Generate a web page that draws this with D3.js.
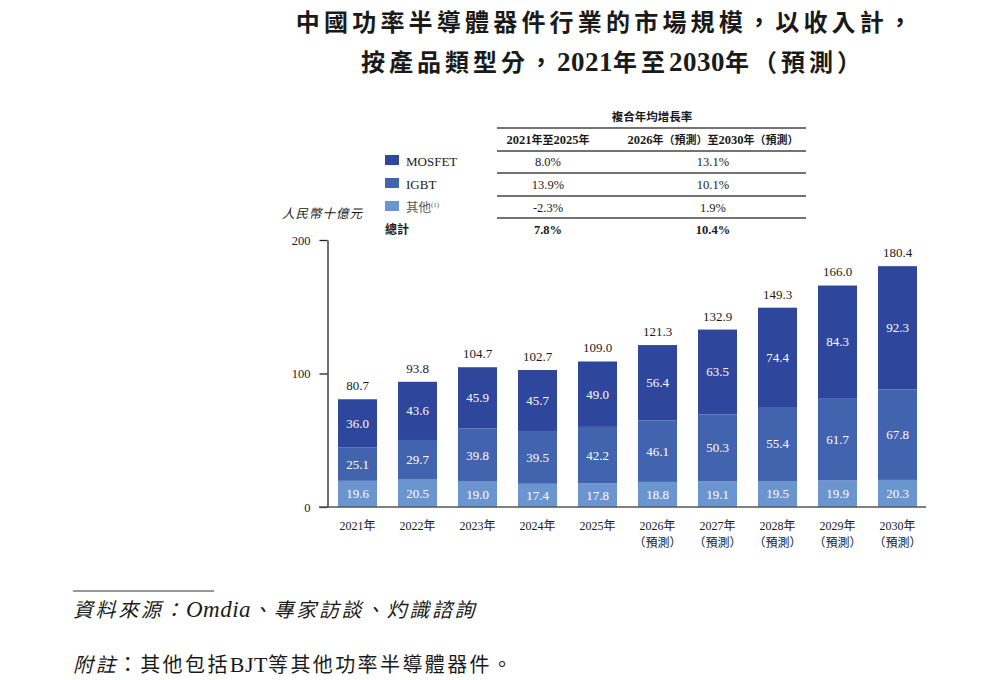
<!DOCTYPE html>
<html>
<head>
<meta charset="utf-8">
<script src="https://cdn.jsdelivr.net/npm/d3@7/dist/d3.min.js"></script>
<style>
  body { margin: 0; background: #fff; }
  svg text { font-family: "Liberation Serif", "Noto Sans CJK TC", serif; fill: #1a1a1a; }
  .cjk { font-family: "Noto Sans CJK TC", sans-serif; }
</style>
</head>
<body>
<div id="chart"></div>
<script>
// data
var years = ["2021年", "2022年", "2023年", "2024年", "2025年", "2026年", "2027年", "2028年", "2029年", "2030年"];
var forecast = [false, false, false, false, false, true, true, true, true, true];
var others = [19.6, 20.5, 19.0, 17.4, 17.8, 18.8, 19.1, 19.5, 19.9, 20.3];
var igbt = [25.1, 29.7, 39.8, 39.5, 42.2, 46.1, 50.3, 55.4, 61.7, 67.8];
var mosfet = [36.0, 43.6, 45.9, 45.7, 49.0, 56.4, 63.5, 74.4, 84.3, 92.3];
var totals = [80.7, 93.8, 104.7, 102.7, 109.0, 121.3, 132.9, 149.3, 166.0, 180.4];
var yTicks = [0, 100, 200];

var seriesNames = ["其他", "IGBT", "MOSFET"];
var colors = ["#6a95cf", "#4263ad", "#2e469c"];

var cagrHead = ["2021年至2025年", "2026年（預測）至2030年（預測）"];
var cagrRows = [
    ["MOSFET", "8.0%", "13.1%"],
    ["IGBT", "13.9%", "10.1%"],
    ["其他", "-2.3%", "1.9%"],
    ["總計", "7.8%", "10.4%"]
];

var width = 1005, height = 680;
var svg = d3.select("#chart").append("svg")
    .attr("width", width)
    .attr("height", height);

// title
svg.append("text").attr("x", 606).attr("y", 31)
    .attr("text-anchor", "middle")
    .attr("class", "cjk")
    .style("font-size", "24px").style("font-weight", "bold").style("letter-spacing", "4.2px")
    .text("中國功率半導體器件行業的市場規模，以收入計，");
var t2 = svg.append("text").attr("x", 613).attr("y", 71)
    .attr("text-anchor", "middle")
    .style("font-size", "24px").style("font-weight", "bold").style("letter-spacing", "4px");
t2.append("tspan").attr("class", "cjk").text("按產品類型分，");
t2.append("tspan").style("font-size", "27px").style("letter-spacing", "0.5px").text("2021");
t2.append("tspan").attr("class", "cjk").text("年至");
t2.append("tspan").style("font-size", "27px").style("letter-spacing", "0.5px").text("2030");
t2.append("tspan").attr("class", "cjk").text("年（預測）");

// scales
var stackData = years.map(function(y, i){
    return { year: y, i: i, "其他": others[i], "IGBT": igbt[i], "MOSFET": mosfet[i] };
});

var xScale = d3.scaleBand()
    .domain(years)
    .range([327.5, 927.5])
    .paddingInner(0.35)
    .paddingOuter(0.175);

var yScale = d3.scaleLinear()
    .domain([0, 200])
    .range([507, 240]);

var stack = d3.stack().keys(seriesNames);
var layers = stack(stackData);

// bars
var layerG = svg.selectAll(".layer")
    .data(layers)
    .enter().append("g")
    .attr("class", "layer")
    .attr("fill", function(d, i){ return colors[i]; });

layerG.selectAll("rect")
    .data(function(d){ return d; })
    .enter().append("rect")
    .attr("x", function(d){ return xScale(d.data.year); })
    .attr("y", function(d){ return yScale(d[1]); })
    .attr("width", xScale.bandwidth())
    .attr("height", function(d){ return yScale(d[0]) - yScale(d[1]); });

layerG.selectAll(".seg-label")
    .data(function(d){ return d; })
    .enter().append("text")
    .attr("class", "seg-label")
    .attr("x", function(d){ return xScale(d.data.year) + xScale.bandwidth() / 2; })
    .attr("y", function(d){ return (yScale(d[0]) + yScale(d[1])) / 2 + 4.5; })
    .attr("text-anchor", "middle")
    .style("font-size", "13px")
    .style("fill", "#fff")
    .text(function(d){ return (d[1] - d[0]).toFixed(1); });

// totals
svg.selectAll(".total")
    .data(totals)
    .enter().append("text")
    .attr("class", "total")
    .attr("x", function(d, i){ return xScale(years[i]) + xScale.bandwidth() / 2; })
    .attr("y", function(d){ return yScale(d) - 9; })
    .attr("text-anchor", "middle")
    .style("font-size", "13px")
    .text(function(d){ return d.toFixed(1); });

// y axis
var yAxis = d3.axisLeft(yScale).tickValues(yTicks).tickSize(8).tickSizeOuter(0).tickPadding(9);
var yG = svg.append("g")
    .attr("transform", "translate(327.5,0)")
    .call(yAxis);
yG.selectAll("path, line").attr("stroke", "#222").attr("stroke-width", 1.3);
yG.selectAll("text").style("font-size", "12.5px").style("font-family", "Liberation Serif").attr("fill", "#1a1a1a");

// baseline
svg.append("line")
    .attr("x1", 319).attr("x2", 926)
    .attr("y1", yScale(0)).attr("y2", yScale(0))
    .attr("stroke", "#555").attr("stroke-width", 1.5);

// x labels
var xl = svg.selectAll(".xlab")
    .data(years)
    .enter().append("text")
    .attr("class", "xlab")
    .attr("text-anchor", "middle")
    .attr("x", function(d){ return xScale(d) + xScale.bandwidth() / 2; })
    .attr("y", 530)
    .style("font-size", "12px");
xl.append("tspan").text(function(d){ return d.replace("年", ""); });
xl.append("tspan").attr("class", "cjk").text("年");
svg.selectAll(".xfc")
    .data(years.filter(function(d, i){ return forecast[i]; }))
    .enter().append("text")
    .attr("class", "xfc cjk")
    .attr("text-anchor", "middle")
    .attr("x", function(d){ return xScale(d) + xScale.bandwidth() / 2; })
    .attr("y", 547)
    .style("font-size", "12px")
    .text("（預測）");

// unit label
svg.append("text").attr("x", 282).attr("y", 218)
    .attr("class", "cjk")
    .style("font-size", "12.5px").style("font-style", "italic").style("letter-spacing", "1px")
    .text("人民幣十億元");

// CAGR table
var c1 = 548, c2 = 713;
svg.append("text").attr("x", 652).attr("y", 121)
    .attr("text-anchor", "middle").attr("class", "cjk")
    .style("font-size", "11.5px").style("font-weight", "bold")
    .text("複合年均增長率");

[128, 151, 173, 196, 218].forEach(function(y){
    svg.append("line")
        .attr("x1", 497).attr("x2", 806).attr("y1", y).attr("y2", y)
        .attr("stroke", "#444").attr("stroke-width", 1.6);
});

function mixed(sel, str){
    str.split(/([0-9]+)/).forEach(function(p){
        if(!p) return;
        var t = sel.append("tspan").text(p);
        if(!/^[0-9]+$/.test(p)) t.attr("class", "cjk").style("font-size", "11px");
    });
}
var h1 = svg.append("text").attr("x", c1).attr("y", 144).attr("text-anchor", "middle")
    .style("font-size", "12.5px").style("font-weight", "bold");
mixed(h1, cagrHead[0]);
var h2 = svg.append("text").attr("x", c2).attr("y", 144).attr("text-anchor", "middle")
    .style("font-size", "12.5px").style("font-weight", "bold");
mixed(h2, cagrHead[1]);

var rowY = [166, 189, 212, 234];
cagrRows.forEach(function(r, i){
    var bold = i === 3;
    if(i < 3){
        svg.append("rect")
            .attr("x", 385).attr("y", rowY[i] - 11)
            .attr("width", 14).attr("height", 10)
            .attr("fill", colors[2 - i]);
        var lab = svg.append("text").attr("x", 406).attr("y", rowY[i])
            .style("font-size", "13px");
        if(i === 2){
            lab.append("tspan").attr("class", "cjk").style("fill", "#555").style("font-size", "12.5px").text(r[0]);
            lab.append("tspan").attr("dy", -5).style("font-size", "7px").style("fill", "#555").text("(1)");
        } else {
            lab.text(r[0]);
        }
    } else {
        svg.append("text").attr("x", 385).attr("y", rowY[i])
            .attr("class", "cjk")
            .style("font-size", "12px").style("font-weight", "bold")
            .text(r[0]);
    }
    [c1, c2].forEach(function(cx, k){
        svg.append("text").attr("x", cx).attr("y", rowY[i])
            .attr("text-anchor", "middle")
            .style("font-size", "12.5px")
            .style("font-weight", bold ? "bold" : "normal")
            .text(r[k + 1]);
    });
});

// footer
svg.append("line").attr("x1", 73).attr("x2", 214).attr("y1", 591).attr("y2", 591)
    .attr("stroke", "#333").attr("stroke-width", 1.2);
var f1 = svg.append("text").attr("x", 73).attr("y", 617)
    .style("font-size", "20px").style("font-style", "italic").style("letter-spacing", "2.6px");
f1.append("tspan").attr("class", "cjk").text("資料來源：");
f1.append("tspan").style("font-size", "23px").style("letter-spacing", "0.5px").text("Omdia");
f1.append("tspan").attr("class", "cjk").text("、專家訪談、灼識諮詢");

var f2 = svg.append("text").attr("x", 73).attr("y", 672)
    .style("font-size", "20px").style("letter-spacing", "2.4px");
f2.append("tspan").attr("class", "cjk").style("font-style", "italic").text("附註");
f2.append("tspan").attr("class", "cjk").text("：其他包括");
f2.append("tspan").style("font-size", "22px").style("letter-spacing", "0.5px").text("BJT");
f2.append("tspan").attr("class", "cjk").text("等其他功率半導體器件。");
</script>
</body>
</html>
